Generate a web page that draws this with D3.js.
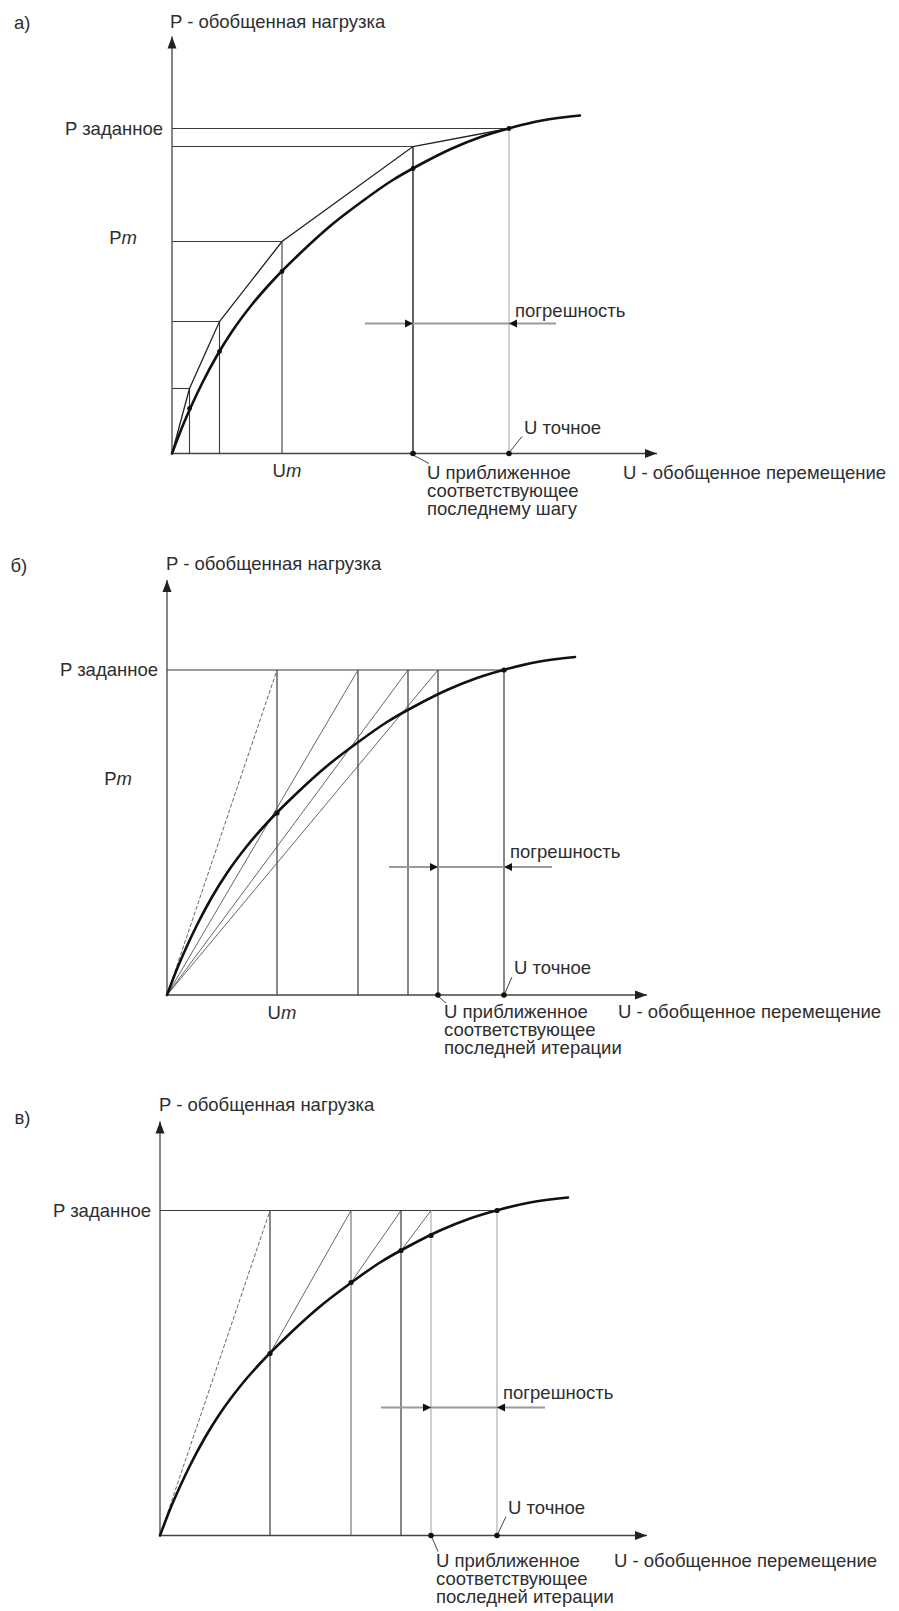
<!DOCTYPE html>
<html><head><meta charset="utf-8">
<script src="https://cdn.jsdelivr.net/npm/d3@7"></script>
<style>
body{margin:0;background:#fff}
svg{display:block}
text{font-family:"Liberation Sans",Arial,sans-serif;font-size:18.5px;fill:#2e2e2e}
</style></head><body>
<svg id="c" width="899" height="1611"></svg>
<script>
// ---------- data (units: generalized U / P) ----------
const curveU = [0, 10, 20, 30, 45, 60, 80, 100, 130, 160, 190, 220, 250, 280, 310, 340, 370, 408];
const curveP = [0, 26, 49, 70, 98, 122, 149, 172, 202, 229, 252, 273, 290, 305, 317, 326, 333, 338];
const pGiven = 325;          // P заданное
const pM = 216;              // level of the "Pm" label
const uExact = 337;          // U точное
// panel a: incremental steps
const stepU = [17.5, 47.5, 110, 241, 337];
const stepP = [65, 132, 212, 307, 325];
const stepCurveP = [45, 102, 182, 285, 325];
// panels б and в: iterations
const iterU = [110, 191, 241, 271];
const iterCurveP = [182, 253, 285, 300];
// error band (погрешность)
const errLevel = [130, 128, 128];
const errFrom = [193, 222, 221];
const errTo = [384, 385, 385];
const axisULen = [485, 480, 487];
const axisPLen = [417, 415, 414];
const panelLetters = ["а)", "б)", "в)"];
const pTitle = "P - обобщенная нагрузка";
const uTitle = "U - обобщенное перемещение";
const pGivenLabel = "P заданное";
const errLabel = "погрешность";
const uExactLabel = "U точное";
const uApproxLabels = [
  ["U приближенное", "соответствующее", "последнему шагу"],
  ["U приближенное", "соответствующее", "последней итерации"],
  ["U приближенное", "соответствующее", "последней итерации"]
];

// ---------- drawing ----------
const svg = d3.select("#c");
svg.append("rect").attr("width", 899).attr("height", 1611).attr("fill", "#fff");

const layouts = [
  {ox: 172, oy: 453.5, letter: [14, 29], title: [170, 28], lineGap: 18, approxDy: 25, approxDx: 14, exactDx: 15, exactDy: -20, umDy: 23, errDy: -7, uTitleX: 623},
  {ox: 167, oy: 995, letter: [10.5, 572], title: [166, 570], lineGap: 18, approxDy: 23, approxDx: 6, exactDx: 10, exactDy: -21, umDy: 24, errDy: -9, uTitleX: 618},
  {ox: 160, oy: 1535.5, letter: [14.5, 1124], title: [159, 1111], lineGap: 18, approxDy: 31, approxDx: 5, exactDx: 11, exactDy: -22, umDy: 24, errDy: -9, uTitleX: 614}
];

const AX = "#444", DARK = "#3a3a3a", MID = "#7a7a7a", LIGHT = "#b0b0b0";

function arrowHead(g, tx, ty, dir, len, hw, color) {
  let p;
  if (dir === "right") p = [[tx, ty], [tx - len, ty - hw], [tx - len, ty + hw]];
  else if (dir === "left") p = [[tx, ty], [tx + len, ty - hw], [tx + len, ty + hw]];
  else p = [[tx, ty], [tx - hw, ty + len], [tx + hw, ty + len]];
  g.append("path").attr("d", "M" + p.map(d => d.join(",")).join("L") + "Z").attr("fill", color);
}

function seg(g, x, y, a, b, color, w, dash) {
  const l = g.append("line")
    .attr("x1", x(a[0])).attr("y1", y(a[1]))
    .attr("x2", x(b[0])).attr("y2", y(b[1]))
    .attr("stroke", color).attr("stroke-width", w);
  if (dash) l.attr("stroke-dasharray", dash);
  return l;
}

function dot(g, x, y, u, p, r) {
  g.append("circle").attr("cx", x(u)).attr("cy", y(p)).attr("r", r || 2.6).attr("fill", "#111");
}

const curveData = curveU.map((u, i) => [u, curveP[i]]);

layouts.forEach((L, k) => {
  const g = svg.append("g");
  const x = d3.scaleLinear().domain([0, 500]).range([L.ox, L.ox + 500]);
  const y = d3.scaleLinear().domain([0, 450]).range([L.oy, L.oy - 450]);
  const uApprox = k === 0 ? stepU[3] : iterU[3];

  g.append("text").attr("x", L.letter[0]).attr("y", L.letter[1]).text(panelLetters[k]);
  g.append("text").attr("x", L.title[0]).attr("y", L.title[1]).text(pTitle);

  seg(g, x, y, [0, pGiven], [uExact, pGiven], DARK, 1.1);

  if (k === 0) {
    stepU.forEach((u, i) => {
      if (i < 4) seg(g, x, y, [0, stepP[i]], [u, stepP[i]], DARK, 1.1);
      seg(g, x, y, [u, 0], [u, stepP[i]], i === 4 ? LIGHT : (i === 3 ? "#222" : DARK), i === 3 ? 1.4 : 1.1);
    });
    const poly = [[0, 0]].concat(stepU.map((u, i) => [u, stepP[i]]));
    g.append("path").datum(poly)
      .attr("d", d3.line().x(d => x(d[0])).y(d => y(d[1])))
      .attr("fill", "none").attr("stroke", "#222").attr("stroke-width", 1.3);
  } else {
    const vcol = k === 1 ? [DARK, DARK, DARK, DARK] : [DARK, MID, DARK, LIGHT];
    iterU.forEach((u, i) => seg(g, x, y, [u, 0], [u, pGiven], vcol[i], 1.2));
    seg(g, x, y, [uExact, 0], [uExact, pGiven], k === 1 ? DARK : LIGHT, 1.2);
    iterU.forEach((u, i) => {
      let start;
      if (k === 1) start = [0, 0];
      else start = i === 0 ? [0, 0] : [iterU[i - 1], iterCurveP[i - 1]];
      seg(g, x, y, start, [u, pGiven], "#555", 0.9, i === 0 ? "4,2" : null);
    });
  }

  // axes
  seg(g, x, y, [0, 0], [axisULen[k], 0], AX, 1.3);
  seg(g, x, y, [0, 0], [0, axisPLen[k]], AX, 1.3);
  arrowHead(g, x(axisULen[k]), y(0), "right", 12, 4.5, "#222");
  arrowHead(g, x(0), y(axisPLen[k]), "up", 12, 4.5, "#222");

  // curve
  g.append("path").datum(curveData)
    .attr("d", d3.line().curve(d3.curveMonotoneX).x(d => x(d[0])).y(d => y(d[1])))
    .attr("fill", "none").attr("stroke", "#111").attr("stroke-width", 2.6)
    .attr("stroke-linecap", "round");

  if (k === 0) stepU.forEach((u, i) => dot(g, x, y, u, stepCurveP[i], 2.4));
  else if (k === 1) { dot(g, x, y, iterU[0], iterCurveP[0]); dot(g, x, y, uExact, pGiven); }
  else { iterU.forEach((u, i) => dot(g, x, y, u, iterCurveP[i])); dot(g, x, y, uExact, pGiven); }

  dot(g, x, y, uApprox, 0, 2.8);
  dot(g, x, y, uExact, 0, 2.8);

  // error band
  seg(g, x, y, [errFrom[k], errLevel[k]], [errTo[k], errLevel[k]], "#9a9a9a", 1.8);
  arrowHead(g, x(uApprox), y(errLevel[k]), "right", 8, 4, "#111");
  arrowHead(g, x(uExact), y(errLevel[k]), "left", 8, 4, "#111");
  g.append("text").attr("x", x(uExact) + 6).attr("y", y(errLevel[k]) + L.errDy).text(errLabel);

  // labels on the P axis
  g.append("text").attr("x", x(0) - 9).attr("y", y(pGiven) + 6).attr("text-anchor", "end").text(pGivenLabel);
  if (k < 2) {
    const t = g.append("text").attr("x", x(0) - 35).attr("y", y(pM) + 6).attr("text-anchor", "end");
    t.append("tspan").text("P");
    t.append("tspan").attr("font-style", "italic").text("m");
    const t2 = g.append("text").attr("x", x(iterU[0]) + 5).attr("y", y(0) + L.umDy).attr("text-anchor", "middle");
    t2.append("tspan").text("U");
    t2.append("tspan").attr("font-style", "italic").text("m");
  }

  // U точное with leader
  g.append("line").attr("x1", x(uExact) + 1).attr("y1", y(0) - 2).attr("x2", x(uExact) + L.exactDx - 2).attr("y2", y(0) + L.exactDy + 3)
    .attr("stroke", "#444").attr("stroke-width", 1);
  g.append("text").attr("x", x(uExact) + L.exactDx).attr("y", y(0) + L.exactDy).text(uExactLabel);

  // U приближенное with leader
  g.append("line").attr("x1", x(uApprox) + 1).attr("y1", y(0) + 2).attr("x2", x(uApprox) + L.approxDx + 2).attr("y2", y(0) + L.approxDy - 15)
    .attr("stroke", "#444").attr("stroke-width", 1);
  uApproxLabels[k].forEach((s, j) => {
    g.append("text").attr("x", x(uApprox) + L.approxDx).attr("y", y(0) + L.approxDy + j * L.lineGap).text(s);
  });

  g.append("text").attr("x", L.uTitleX).attr("y", y(0) + L.approxDy).text(uTitle);
});
</script>
</body></html>
